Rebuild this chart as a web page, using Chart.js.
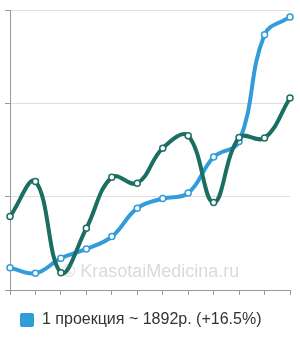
<!DOCTYPE html>
<html>
<head>
<meta charset="utf-8">
<script src="https://cdn.jsdelivr.net/npm/chart.js@4/dist/chart.umd.min.js"></script>
<style>
  html, body { margin: 0; padding: 0; background: #fff; }
  #wrap { width: 300px; height: 340px; position: relative; }
</style>
</head>
<body>
<div id="wrap"><canvas id="c" width="300" height="340"></canvas></div>
<script>
const categories = ['1', '2', '3', '4', '5', '6', '7', '8', '9', '10', '11', '12'];
const projectionValues = [239, 179, 340, 440, 572, 877, 980, 1038, 1424, 1591, 2736, 2926];
const otherValues = [787, 1162, 186, 662, 1209, 1145, 1520, 1652, 937, 1634, 1628, 2057];
const yTicks = [0, 1000, 2000, 3000];
const legendLabel = '1 проекция ~ 1892р. (+16.5%)';
const watermarkText = '© KrasotaiMedicina.ru';

const BLUE = '#329cda';
const TEAL = '#1b6e62';

const watermark = {
  id: 'watermark',
  beforeDatasetsDraw(chart) {
    const ctx = chart.ctx;
    ctx.save();
    ctx.font = '18px "Liberation Sans", Arial, sans-serif';
    ctx.fillStyle = '#dadada';
    ctx.textBaseline = 'middle';
    ctx.textAlign = 'left';
    ctx.fillText(watermarkText, 62, 272);
    ctx.restore();
  }
};

new Chart(document.getElementById('c'), {
  type: 'line',
  data: {
    labels: categories,
    datasets: [
      {
        label: '',
        data: otherValues,
        borderColor: TEAL,
        backgroundColor: TEAL,
        borderWidth: 4,
        tension: 0.4,
        fill: false,
        pointRadius: 3,
        pointBorderWidth: 1.5,
        pointBackgroundColor: '#fff',
        pointBorderColor: TEAL
      },
      {
        label: legendLabel,
        data: projectionValues,
        borderColor: BLUE,
        backgroundColor: BLUE,
        borderWidth: 4,
        tension: 0.4,
        fill: false,
        pointRadius: 3,
        pointBorderWidth: 1.5,
        pointBackgroundColor: '#fff',
        pointBorderColor: BLUE
      }
    ]
  },
  options: {
    responsive: false,
    animation: false,
    devicePixelRatio: 1,
    layout: { padding: { top: 10, right: 10, bottom: 2, left: 3 } },
    scales: {
      x: {
        type: 'category',
        offset: false,
        afterFit(s) { s.height = 5; },
        grid: { drawOnChartArea: false, drawTicks: true, tickLength: 5, tickColor: '#999', lineWidth: 1 },
        border: { display: true, color: '#999', width: 1 },
        ticks: { display: false }
      },
      y: {
        min: yTicks[0],
        max: yTicks[yTicks.length - 1],
        afterFit(s) { s.width = 7; },
        afterBuildTicks(s) { s.ticks = yTicks.map(v => ({ value: v })); },
        grid: { color: '#dedede', drawTicks: true, tickLength: 5, tickColor: '#999', lineWidth: 1 },
        border: { display: true, color: '#999', width: 1 },
        ticks: { display: false }
      }
    },
    plugins: {
      tooltip: { enabled: false },
      legend: {
        position: 'bottom',
        align: 'start',
        labels: {
          boxWidth: 14,
          boxHeight: 14,
          padding: 17,
          color: '#333',
          font: { family: '"Liberation Sans", Arial, sans-serif', size: 16 },
          useBorderRadius: true,
          borderRadius: 2,
          filter: (item) => item.text !== '',
          generateLabels(chart) {
            const items = Chart.defaults.plugins.legend.labels.generateLabels(chart);
            return items.map(it => Object.assign(it, { lineWidth: 0, strokeStyle: it.fillStyle }));
          }
        }
      }
    }
  },
  plugins: [watermark]
});
</script>
</body>
</html>
